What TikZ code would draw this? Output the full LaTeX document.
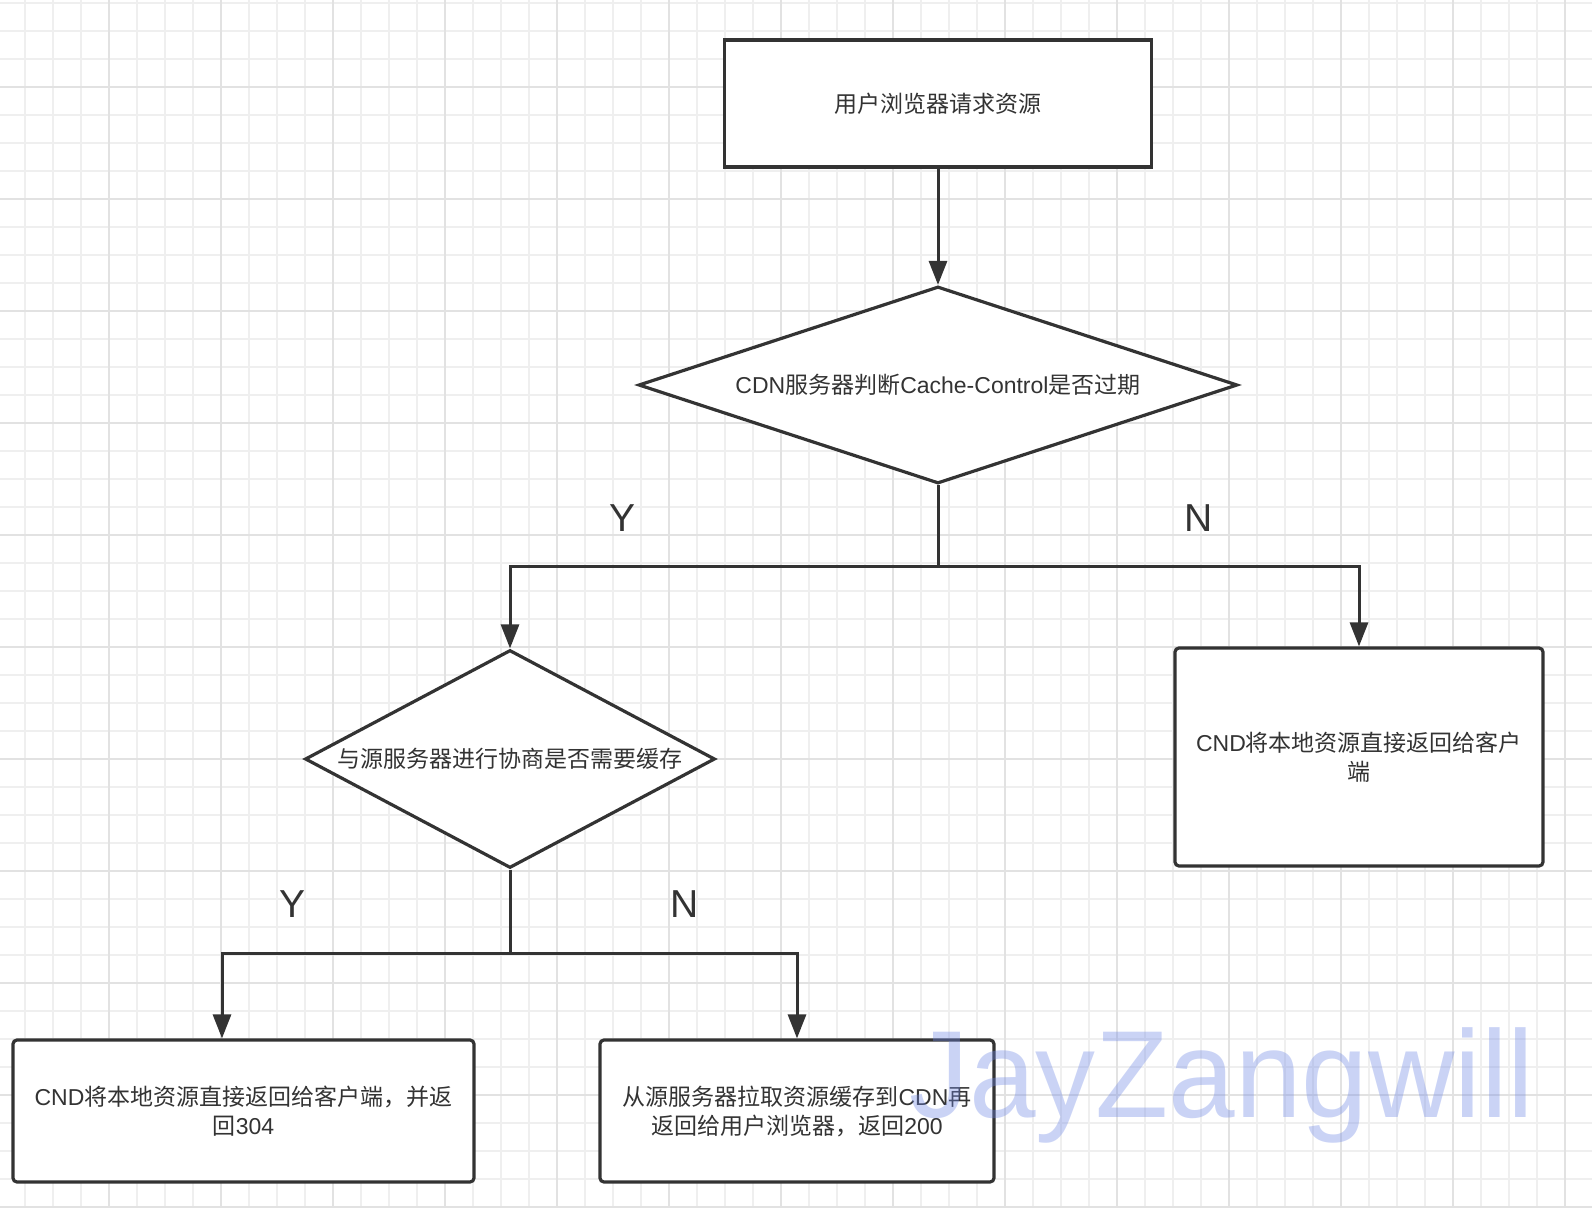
\documentclass[tikz,border=0pt]{standalone}
\usepackage{fontspec}
\setmainfont{Noto Sans CJK SC}
\newfontfamily\latinfont{Liberation Sans}
\newcommand\en[1]{{\latinfont #1}}
\usetikzlibrary{arrows.meta, shapes.geometric}

\definecolor{ink}{HTML}{333333}
\definecolor{gridminor}{HTML}{EFEFEF}
\definecolor{gridmajor}{HTML}{E2E2E2}
\definecolor{wmblue}{RGB}{110,135,230}

\begin{document}
\begin{tikzpicture}[
    x=0.5pt, y=-0.5pt,
    block/.style = {draw=ink, fill=white, line width=1.6pt, text=ink, align=center, inner sep=2pt,
                    font=\fontsize{11.5pt}{14.5pt}\selectfont},
    decision/.style = {diamond, draw=ink, fill=white, line width=1.6pt, text=ink, align=center, inner sep=0pt,
                    font=\fontsize{11.5pt}{14.5pt}\selectfont},
    arrow/.style = {draw=ink, line width=1.5pt, -{Triangle[length=12pt, width=9pt]}},
    link/.style = {draw=ink, line width=1.5pt},
    yn/.style = {text=ink, font=\latinfont\fontsize{19.5pt}{20pt}\selectfont}
  ]

  % Background grid
  \fill[white] (0,0) rectangle (1592,1208);
  \useasboundingbox (0,0) rectangle (1592,1208);
  \foreach \gx in {0,...,55} \draw[gridminor, line width=1pt] ({25+28*\gx},0) -- ({25+28*\gx},1208);
  \foreach \gy in {0,...,43} \draw[gridminor, line width=1pt] (0,{3+28*\gy}) -- (1592,{3+28*\gy});
  \foreach \gx in {0,...,13} \draw[gridmajor, line width=1pt] ({109+112*\gx},0) -- ({109+112*\gx},1208);
  \foreach \gy in {0,...,10} \draw[gridmajor, line width=1pt] (0,{87+112*\gy}) -- (1592,{87+112*\gy});

  % Nodes
  \node[block, minimum width=213.5pt, minimum height=63.5pt] (request) at (938,103.5) {用户浏览器请求资源};
  \node[decision, aspect=3.04, minimum width=299.5pt, minimum height=98.5pt] (expire) at (938,385)
    {\en{CDN}服务器判断\en{Cache-Control}是否过期};
  \node[decision, aspect=1.88, minimum width=205pt, minimum height=109pt] (negotiate) at (510,759)
    {与源服务器进行协商是否需要缓存};
  \node[block, rounded corners=2pt, minimum width=184pt, minimum height=109pt] (hit) at (1359,757)
    {\en{CND}将本地资源直接返回给客户\\端};
  \node[block, rounded corners=2pt, minimum width=230.5pt, minimum height=71pt] (local) at (243.5,1111)
    {\en{CND}将本地资源直接返回给客户端，并返\\回\en{304}};
  \node[block, rounded corners=2pt, minimum width=197pt, minimum height=71pt] (fetch) at (797,1111)
    {从源服务器拉取资源缓存到\en{CDN}再\\返回给用户浏览器，返回\en{200}};

  \coordinate (split1) at (938,567);
  \coordinate (split2) at (510,953);
  \coordinate (leftdrop) at (222,953);

  % Connectors
  \draw[arrow] (request) -- (expire.north);
  \draw[link] (expire.south) -- (split1);
  \draw[arrow] (split1) -| (negotiate.north);
  \draw[arrow] (split1) -| (hit.north);
  \draw[link] (negotiate.south) -- (split2);
  \draw[arrow] (split2) -- (leftdrop) -- (leftdrop |- local.north);
  \draw[arrow] (split2) -| (fetch.north);

  % Labels
  \node[yn] (yes1) at (623,518) {Y};
  \node[yn] (no1) at (1199,518) {N};
  \node[yn] (yes2) at (293,904) {Y};
  \node[yn] (no2) at (685,904) {N};

  % Watermark
  \node[text=wmblue, opacity=0.36, font=\latinfont\fontsize{62pt}{62pt}\selectfont,
        anchor=base west, inner sep=0pt, xscale=0.965, transform shape] (stamp) at (909,1117) {JayZangwill};

\end{tikzpicture}
\end{document}
